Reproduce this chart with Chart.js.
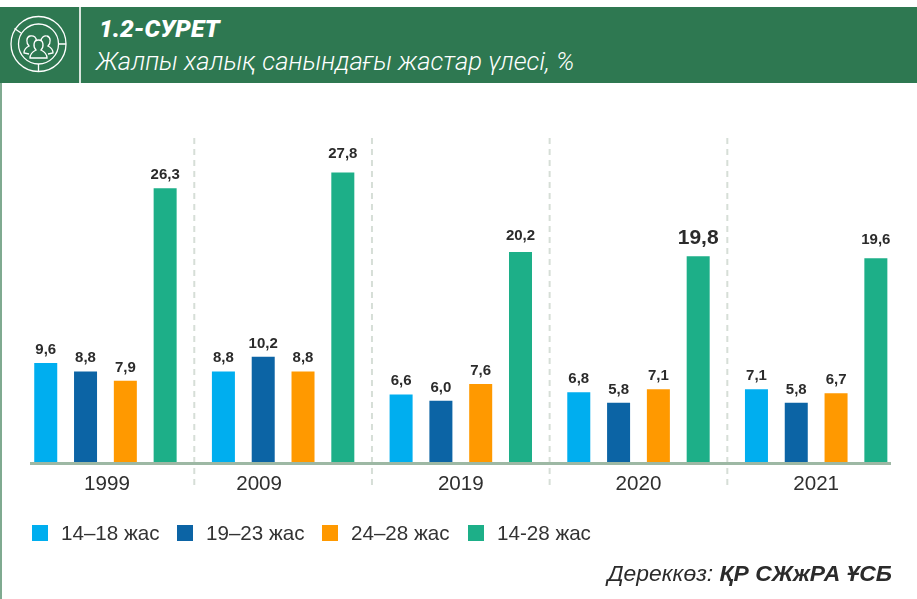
<!DOCTYPE html>
<html><head><meta charset="utf-8">
<script src="https://cdn.jsdelivr.net/npm/chart.js@4"></script>
<style>
html,body{margin:0;padding:0;background:#fff;width:917px;height:599px;overflow:hidden}
#wrap{position:relative;width:917px;height:599px}
canvas{position:absolute;left:0;top:0}
#head{position:absolute;left:0;top:7px;width:917px;height:76px;background:#2E7851}
#vline{position:absolute;left:79px;top:7px;width:2px;height:76px;background:#D9E6DE}
#side{position:absolute;left:0;top:83px;width:2px;height:516px;background:#7FAA90}
.t{position:absolute;color:#fff;font-family:Roboto,sans-serif;font-style:italic;white-space:nowrap}
#t1{left:99px;top:15px;font-size:24.6px;font-weight:900;line-height:28px}
#t2{left:96px;top:47px;font-size:25.6px;font-weight:300;line-height:28px}
#icon{position:absolute;left:8px;top:14px}
#legend{position:absolute;left:32px;top:522px;font:20.6px "Liberation Sans",Arial,sans-serif;color:#333;height:22px}
.li{position:absolute;top:0;white-space:nowrap;line-height:22px}
.li i{position:absolute;left:0;top:3px;width:16px;height:16px}
.li span{position:absolute;left:29px;top:0}
#src{position:absolute;right:25px;top:560px;font:italic 22.9px "Liberation Sans",Arial,sans-serif;color:#2b2b2b;white-space:nowrap}
#src b{font-weight:700}
</style></head><body>
<div id="wrap">
<canvas id="c" width="917" height="599"></canvas>
<div id="head"></div><div id="vline"></div><div id="side"></div>
<svg id="icon" width="62" height="60" viewBox="0 0 62 60" fill="none" stroke="#fff" stroke-width="1.3">
<circle cx="30.5" cy="30" r="27.5"/><circle cx="30.5" cy="30" r="20"/>
<path d="M30.5 50v7.5M50.5 30h7.5M13 19l-6.5-4.5"/>
<path d="M21 40l-5-1c0-4 3-6 5-7-3-3-3-9 1-10 4-1 7 2 6 5M33 27c0-3 3-6 6-5 4 1 4 7 1 10 2 1 5 3 5 7l-5 1"/>
<path d="M22 44c0-5 4-7 6-8-3-3-3-10 2.500-10s5.500 7 2.500 10c2 1 6 3 6 8z"/>
</svg>
<div class="t" id="t1">1.2-СУРЕТ</div>
<div class="t" id="t2">Жалпы халық санындағы жастар үлесі, %</div>
<div id="legend"></div>
<div id="src">Дереккөз: <b>ҚР СЖжРА ҰСБ</b></div>
</div>
<script>
const categories = ["1999","2009","2019","2020","2021"];
const seriesNames = ["14–18 жас","19–23 жас","24–28 жас","14-28 жас"];
const age14to18 = [9.6,8.8,6.6,6.8,7.1];
const age19to23 = [8.8,10.2,6.0,5.8,5.8];
const age24to28 = [7.9,8.8,7.6,7.1,6.7];
const age14to28 = [26.3,27.8,20.2,19.8,19.6];
const seriesColors = ["#00AEEF","#0C64A5","#FF9900","#1DAF88"];
const allSeries = [age14to18,age19to23,age24to28,age14to28];

const fmt = v => v.toFixed(1).replace(".",",");
const labelShift = {"2009":-24, "1999":1.5};
const totalLabelGaps = [9,15,12,12,14];

const decor = {
  id:"decor",
  beforeDatasetsDraw(chart){
    const {ctx,scales:{x,y}} = chart;
    ctx.save();
    ctx.strokeStyle="#D6DED7";ctx.lineWidth=2;ctx.setLineDash([6,5]);
    for(let i=0;i<categories.length-1;i++){
      const px=(x.getPixelForValue(i)+x.getPixelForValue(i+1))/2;
      ctx.beginPath();ctx.moveTo(px,138);ctx.lineTo(px,490);ctx.stroke();
    }
    ctx.restore();
  },
  afterDatasetsDraw(chart){
    const {ctx,scales:{x,y}} = chart;
    ctx.save();
    ctx.fillStyle="#9DB8A4";
    ctx.fillRect(30,y.getPixelForValue(0)-1.5,861,3);
    ctx.textAlign="center";ctx.textBaseline="alphabetic";
    ctx.fillStyle="#2f2f2f";
    ctx.font='20.6px "Liberation Sans",Arial,sans-serif';
    categories.forEach((c,i)=>{
      ctx.fillText(c,x.getPixelForValue(i)+(labelShift[c]||0),490);
    });
    chart.data.datasets.forEach((ds,di)=>{
      const meta=chart.getDatasetMeta(di);
      meta.data.forEach((bar,i)=>{
        const big=(di===3&&i===3);
        ctx.font=(big?'bold 21px':'bold 15px')+' "Liberation Sans",Arial,sans-serif';
        ctx.fillStyle="#2b2b2b";
        ctx.fillText(fmt(ds.data[i]),bar.x,bar.y-(di===3?totalLabelGaps[i]:9));
      });
    });
    ctx.restore();
  }
};

new Chart(document.getElementById("c"),{
  type:"bar",
  data:{labels:categories,datasets:seriesNames.map((n,i)=>({
    label:n,data:allSeries[i],backgroundColor:seriesColors[i],
    categoryPercentage:0.896,barPercentage:0.578,borderWidth:0
  }))},
  options:{
    responsive:false,animation:false,devicePixelRatio:1,
    layout:{padding:{left:16.6,right:12,top:149.5,bottom:127.5}},
    plugins:{legend:{display:false},tooltip:{enabled:false},title:{display:false}},
    scales:{
      x:{display:true,grid:{display:false},border:{display:false},ticks:{display:false}},
      y:{display:false,min:0,max:30}
    }
  },
  plugins:[decor]
});

const legendOffsets=[0,145,290,436];
const lg=document.getElementById("legend");
seriesNames.forEach((n,i)=>{
  const d=document.createElement("div");d.className="li";d.style.left=legendOffsets[i]+"px";
  d.innerHTML='<i style="background:'+seriesColors[i]+'"></i><span>'+n+'</span>';
  lg.appendChild(d);
});
</script>
</body></html>
